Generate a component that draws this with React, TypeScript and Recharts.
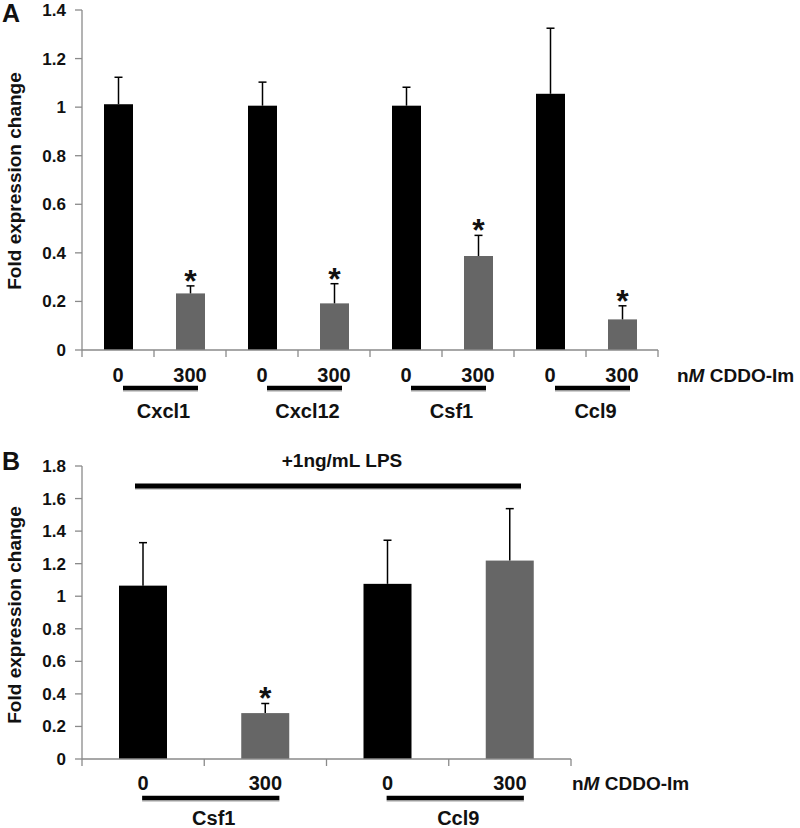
import React from 'react';
import { BarChart, Bar, XAxis, YAxis, Cell } from 'recharts';

const FONT = '"Liberation Sans", Arial, Helvetica, sans-serif';
const INK = '#111111';
const AXIS = '#8a8a8a';
const BLACK_BAR = '#000000';
const GRAY_BAR = '#666666';

// Panel A: unstimulated
const dosesA = ['0', '300', '0', '300', '0', '300', '0', '300'];
const genesA = ['Cxcl1', 'Cxcl1', 'Cxcl12', 'Cxcl12', 'Csf1', 'Csf1', 'Ccl9', 'Ccl9'];
const meanA = [1.012, 0.233, 1.006, 0.192, 1.006, 0.387, 1.055, 0.126];
const sdA = [0.111, 0.031, 0.097, 0.081, 0.076, 0.085, 0.27, 0.056];
const sigA = [false, true, false, true, false, true, false, true];
const ticksA = [0, 0.2, 0.4, 0.6, 0.8, 1, 1.2, 1.4];

// Panel B: +1ng/mL LPS
const dosesB = ['0', '300', '0', '300'];
const genesB = ['Csf1', 'Csf1', 'Ccl9', 'Ccl9'];
const meanB = [1.065, 0.282, 1.076, 1.219];
const sdB = [0.264, 0.059, 0.268, 0.319];
const sigB = [false, true, false, false];
const ticksB = [0, 0.2, 0.4, 0.6, 0.8, 1, 1.2, 1.4, 1.6, 1.8];

const buildRows = (doses: string[], genes: string[], mean: number[], sd: number[], sig: boolean[]) =>
  doses.map((d, i) => ({ key: `${genes[i]}-${d}-${i}`, dose: d, gene: genes[i], mean: mean[i], sd: sd[i], sig: sig[i] }));

const rowsA = buildRows(dosesA, genesA, meanA, sdA, sigA);
const rowsB = buildRows(dosesB, genesB, meanB, sdB, sigB);

const boldText = { fontFamily: FONT, fontWeight: 'bold' as const, fill: INK };

// bar + upward-only error bar + significance star
const BarWithError = (props: any) => {
  const { x, y, width, height, fill, payload } = props;
  if (!payload || !height) return null;
  const perUnit = height / payload.mean;
  const top = y - payload.sd * perUnit;
  const cx = x + width / 2;
  return (
    <g>
      <rect x={x} y={y} width={width} height={height} fill={fill} />
      <line x1={cx} x2={cx} y1={y} y2={top} stroke="#000" strokeWidth={1.5} />
      <line x1={cx - 4} x2={cx + 4} y1={top} y2={top} stroke="#000" strokeWidth={1.5} />
      {payload.sig && (
        <text x={cx} y={top + 6} textAnchor="middle" fontSize={32} {...boldText}>*</text>
      )}
    </g>
  );
};

type TickOpts = {
  rows: any[];
  band: number;
  ulStart: number;
  ulEnd: number;
  doseDy: number;
  ulDy: number;
  geneDy: number;
};

const makeTick = (o: TickOpts) => (props: any) => {
  const { x, y, payload } = props;
  const i = props.index ?? payload.index;
  const row = o.rows[i];
  if (!row) return null;
  const half = o.band / 2;
  const isFirstOfPair = i % 2 === 0;
  const ulX1 = x + o.ulStart;
  const ulX2 = x + o.band + o.ulEnd;
  return (
    <g>
      {i === 0 && <line x1={x - half} x2={x - half} y1={y} y2={y + 7} stroke={AXIS} strokeWidth={1.3} />}
      <line x1={x + half} x2={x + half} y1={y} y2={y + 7} stroke={AXIS} strokeWidth={1.3} />
      <text x={x} y={y + o.doseDy} textAnchor="middle" fontSize={20} {...boldText}>{row.dose}</text>
      {isFirstOfPair && (
        <g>
          <line x1={ulX1} x2={ulX2} y1={y + o.ulDy + 3} y2={y + o.ulDy + 3} stroke="#cfcfcf" strokeWidth={2} />
          <line x1={ulX1} x2={ulX2} y1={y + o.ulDy} y2={y + o.ulDy} stroke="#000" strokeWidth={4.5} />
          <text x={(ulX1 + ulX2) / 2 + 3} y={y + o.geneDy} textAnchor="middle" fontSize={20} {...boldText}>{row.gene}</text>
        </g>
      )}
    </g>
  );
};

const tickA = makeTick({ rows: rowsA, band: 72, ulStart: 5, ulEnd: 8, doseDy: 32, ulDy: 38, geneDy: 68 });
const tickB = makeTick({ rows: rowsB, band: 122.25, ulStart: -1, ulEnd: 14, doseDy: 31, ulDy: 39, geneDy: 66 });

const yTick = { fill: INK, fontSize: 17, fontWeight: 'bold', fontFamily: FONT };

const DoseUnit = ({ x, y }: { x: number; y: number }) => (
  <text x={x} y={y} fontSize={19} {...boldText}>
    n<tspan fontStyle="italic">M</tspan> CDDO-Im
  </text>
);

export default function App() {
  return (
    <div style={{ position: 'fixed', left: 0, top: 0, width: 800, height: 828, background: '#fff', overflow: 'hidden' }}>
      <div style={{ position: 'absolute', left: 0, top: 0 }}>
        <BarChart width={800} height={430} data={rowsA} margin={{ top: 10, right: 142, bottom: 50, left: 0 }}>
          <XAxis dataKey="key" type="category" interval={0} height={30} tickLine={false} tickSize={0} tickMargin={0}
            axisLine={{ stroke: AXIS, strokeWidth: 1.3 }} tick={tickA} />
          <YAxis width={82} domain={[0, 1.4]} ticks={ticksA} interval={0} tickSize={7} tickMargin={9}
            axisLine={{ stroke: AXIS, strokeWidth: 1.3 }} tickLine={{ stroke: AXIS, strokeWidth: 1.3 }} tick={yTick} />
          <Bar dataKey="mean" barSize={29} shape={BarWithError} isAnimationActive={false}>
            {rowsA.map((r, i) => (
              <Cell key={`a-${i}`} fill={r.dose === '0' ? BLACK_BAR : GRAY_BAR} />
            ))}
          </Bar>
        </BarChart>
      </div>
      <div style={{ position: 'absolute', left: 0, top: 430 }}>
        <BarChart width={800} height={398} data={rowsB} margin={{ top: 36, right: 229, bottom: 39, left: 0 }}>
          <XAxis dataKey="key" type="category" interval={0} height={30} tickLine={false} tickSize={0} tickMargin={0}
            axisLine={{ stroke: AXIS, strokeWidth: 1.3 }} tick={tickB} />
          <YAxis width={82} domain={[0, 1.8]} ticks={ticksB} interval={0} tickSize={7} tickMargin={9}
            axisLine={{ stroke: AXIS, strokeWidth: 1.3 }} tickLine={{ stroke: AXIS, strokeWidth: 1.3 }} tick={yTick} />
          <Bar dataKey="mean" barSize={48} shape={BarWithError} isAnimationActive={false}>
            {rowsB.map((r, i) => (
              <Cell key={`b-${i}`} fill={r.dose === '0' ? BLACK_BAR : GRAY_BAR} />
            ))}
          </Bar>
        </BarChart>
      </div>
      <svg width={800} height={828} style={{ position: 'absolute', left: 0, top: 0, pointerEvents: 'none' }}>
        <text x={2} y={22} fontSize={25} {...boldText}>A</text>
        <text x={2} y={470} fontSize={25} {...boldText}>B</text>
        <text transform="translate(14,181) rotate(-90)" textAnchor="middle" dominantBaseline="central" fontSize={19} {...boldText}>
          Fold expression change
        </text>
        <text transform="translate(14,615) rotate(-90)" textAnchor="middle" dominantBaseline="central" fontSize={19} {...boldText}>
          Fold expression change
        </text>
        <DoseUnit x={677} y={382} />
        <DoseUnit x={572} y={790} />
        <text x={342} y={467} textAnchor="middle" fontSize={19} {...boldText}>+1ng/mL LPS</text>
        <line x1={135} x2={521} y1={489} y2={489} stroke="#cfcfcf" strokeWidth={2} />
        <line x1={135} x2={521} y1={486} y2={486} stroke="#000" strokeWidth={5} />
      </svg>
    </div>
  );
}
